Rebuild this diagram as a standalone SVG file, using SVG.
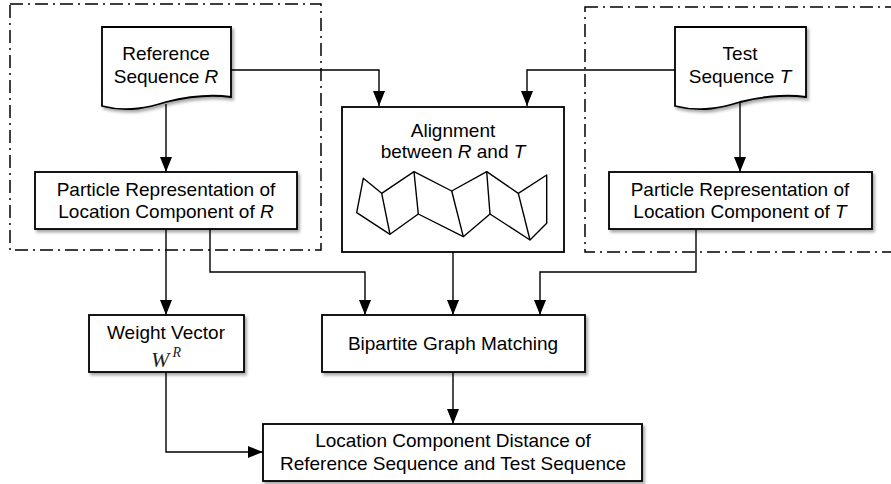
<svg xmlns="http://www.w3.org/2000/svg" width="891" height="484" viewBox="0 0 891 484">
<style>
  .box { fill: #ffffff; stroke: #000000; stroke-width: 1.8; }
  .sh { filter: url(#shadow); }
  .grp { fill: none; stroke: #000000; stroke-width: 1.5; stroke-dasharray: 13 5 2 5; }
  .con { fill: none; stroke: #000000; stroke-width: 1.4; marker-end: url(#arrow); }
  .lbl { font-family: "Liberation Sans", Arial, Helvetica, sans-serif; font-size: 19px; fill: #000000; text-anchor: middle; }
  .it { font-style: italic; }
  .math { font-family: "Liberation Serif", "DejaVu Serif", serif; font-style: italic; fill: #222222; }
  .zig { fill: none; stroke: #000000; stroke-width: 1.4; stroke-linejoin: round; }
</style>
<defs>
  <marker id="arrow" markerUnits="userSpaceOnUse" markerWidth="15" markerHeight="12" refX="15" refY="6" orient="auto">
    <path d="M0,0 L15,6 L0,12 Z" fill="#000000"/>
  </marker>
  <filter id="shadow" x="-10%" y="-10%" width="125%" height="135%">
    <feDropShadow dx="2" dy="2.5" stdDeviation="1.6" flood-color="#000000" flood-opacity="0.35"/>
  </filter>
</defs>
<rect width="891" height="484" fill="#ffffff"/>

<g id="group-reference">
  <rect class="grp" x="10" y="4" width="311" height="246"/>
</g>
<g id="group-test">
  <rect class="grp" x="585" y="7" width="320" height="245"/>
</g>

<g id="connectors">
  <path class="con" d="M166,104 V172"/>
  <path class="con" d="M231,70 H379 V106"/>
  <path class="con" d="M675,70 H527 V106"/>
  <path class="con" d="M740,102 V172"/>
  <path class="con" d="M166,229 V315"/>
  <path class="con" d="M210,229 V272 H365 V315"/>
  <path class="con" d="M453,252 V315"/>
  <path class="con" d="M696,229 V272 H540 V315"/>
  <path class="con" d="M166,372 V452 H263"/>
  <path class="con" d="M453,372 V424"/>
</g>

<g id="node-reference-sequence">
  <path class="box sh" d="M102,27 H231 V97 C210,94 190,96 166,102 C150,107 128,113 102,106 Z"/>
  <text class="lbl" x="166" y="60">Reference</text>
  <text class="lbl" x="166" y="83">Sequence <tspan class="it">R</tspan></text>
</g>

<g id="node-test-sequence">
  <path class="box sh" d="M675,27 H806 V97 C785,94 765,96 740,102 C724,107 702,113 675,106 Z"/>
  <text class="lbl" x="740" y="60">Test</text>
  <text class="lbl" x="740" y="83">Sequence <tspan class="it">T</tspan></text>
</g>

<g id="node-particle-r">
  <rect class="box sh" x="35" y="172" width="262" height="57"/>
  <text class="lbl" x="166" y="196">Particle Representation of</text>
  <text class="lbl" x="166" y="218">Location Component of <tspan class="it">R</tspan></text>
</g>

<g id="node-particle-t">
  <rect class="box sh" x="609" y="172" width="263" height="57"/>
  <text class="lbl" x="740" y="196">Particle Representation of</text>
  <text class="lbl" x="740" y="218">Location Component of <tspan class="it">T</tspan></text>
</g>

<g id="node-alignment">
  <rect class="box" x="342" y="107" width="222" height="145"/>
  <text class="lbl" x="453" y="137">Alignment</text>
  <text class="lbl" x="453" y="158">between <tspan class="it">R</tspan> and <tspan class="it">T</tspan></text>
  <path class="zig" d="M363.3,178.3 L381.7,193.3 L414,171.7 L451.7,191 L486.7,171.7 L518.3,193.3 L546.7,175 L546.7,223.3 L530,240 L490,214 L463.3,236.7 L418.3,214 L390,234.3 L356.7,212.7 Z"/>
  <path class="zig" d="M381.7,193.3 L390,234.3 M414,171.7 L418.3,214 M451.7,191 L463.3,236.7 M486.7,171.7 L490,214 M518.3,193.3 L530,240"/>
</g>

<g id="node-weight-vector">
  <rect class="box sh" x="89" y="315" width="155" height="57"/>
  <text class="lbl" x="166" y="339">Weight Vector</text>
  <text x="166" y="367" text-anchor="middle"><tspan class="math" font-size="22">W</tspan><tspan class="math" font-size="14" dx="3" dy="-10">R</tspan></text>
</g>

<g id="node-bipartite">
  <rect class="box sh" x="322" y="315" width="263" height="57"/>
  <text class="lbl" x="453" y="350">Bipartite Graph Matching</text>
</g>

<g id="node-distance">
  <rect class="box sh" x="263" y="424" width="379" height="57"/>
  <text class="lbl" x="453" y="447">Location Component Distance of</text>
  <text class="lbl" x="453" y="470">Reference Sequence and Test Sequence</text>
</g>
</svg>
